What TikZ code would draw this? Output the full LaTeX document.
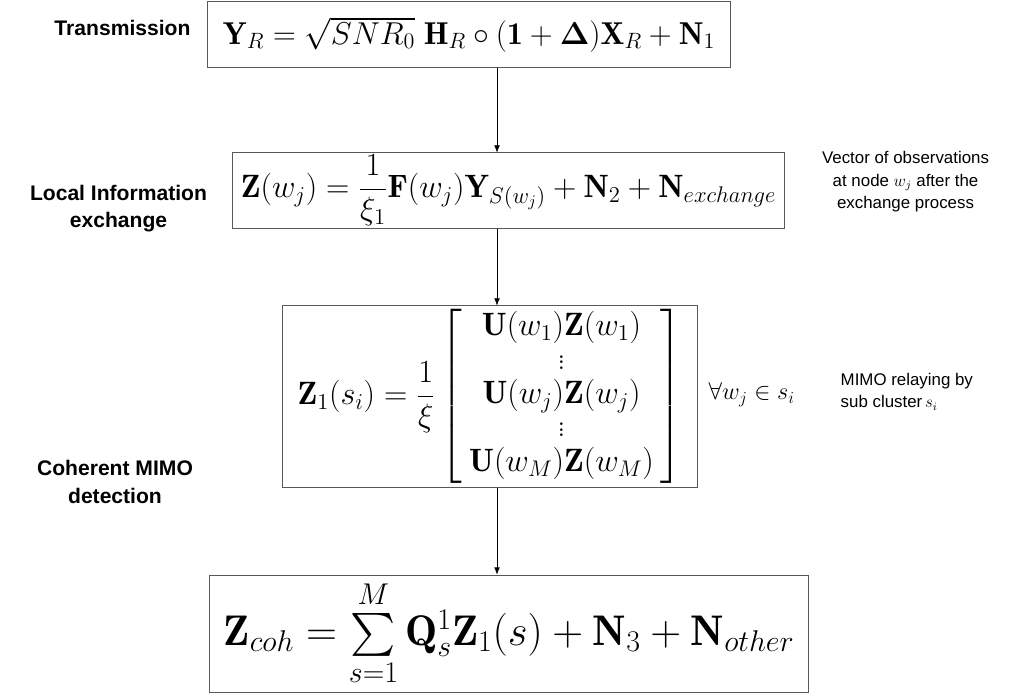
\RequirePackage{fix-cm}
\documentclass[tikz,border=0pt]{standalone}
\usepackage{amsmath,amssymb}
\usepackage{fontspec}
\newfontfamily\labelfont{Liberation Sans}
\usetikzlibrary{positioning,arrows.meta}

\newcommand{\eqsize}[1]{\fontsize{#1}{1.2\dimexpr#1pt\relax}\selectfont}

\begin{document}
\begin{tikzpicture}[
  x=0.025cm, y=-0.025cm,
  eqbox/.style={rectangle, draw=black!65, line width=0.7pt, inner sep=1pt},
  stage/.style={font=\labelfont\bfseries\fontsize{15}{19.5}\selectfont, align=center},
  note/.style={font=\labelfont\fontsize{12}{16}\selectfont},
  arr/.style={-{Latex[length=5pt,width=4pt]}, thin}
]
\useasboundingbox (0,0) rectangle (1016,696);

\node[eqbox, minimum width=13.05cm, minimum height=1.625cm] (tx)   at (469,34.5)
  {\eqsize{22.5}$\mathbf{Y}_R = \sqrt{SNR_0}\;\mathbf{H}_R \circ (\mathbf{1}+\boldsymbol{\Delta})\mathbf{X}_R + \mathbf{N}_1$};
\node[eqbox, minimum width=13.8cm, minimum height=1.875cm] (exch)  at (508.5,190.5)
  {\eqsize{23}$\mathbf{Z}(w_j) = \dfrac{1}{\xi_1}\mathbf{F}(w_j)\mathbf{Y}_{S(w_j)} + \mathbf{N}_2 + \mathbf{N}_{exchange}$};
\node[eqbox, minimum width=10.35cm, minimum height=4.525cm] (mimo) at (490,396.5)
  {\eqsize{23}\renewcommand{\arraystretch}{0.86}$\mathbf{Z}_1(s_i) = \dfrac{1}{\xi}\left[\begin{array}{c}
      \mathbf{U}(w_1)\mathbf{Z}(w_1)\\ \vdots\\ \mathbf{U}(w_j)\mathbf{Z}(w_j)\\ \vdots\\ \mathbf{U}(w_M)\mathbf{Z}(w_M)
    \end{array}\right]$};
\node[eqbox, minimum width=14.95cm, minimum height=2.925cm] (coh)  at (509,633.5)
  {\eqsize{30.5}$\mathbf{Z}_{coh} = \sum\limits_{s=1}^{M}\mathbf{Q}_s^1\mathbf{Z}_1(s) + \mathbf{N}_3 + \mathbf{N}_{other}$};

% stage names on the left
\node[stage, left=0.3cm of tx, yshift=0.16cm]    (stx)   {Transmission};
\node[stage, left=0.5cm of exch, yshift=-0.45cm] (sexch) {Local Information\\exchange};
\node[stage] (smimo) at (115,482) {Coherent MIMO\\detection};

% remarks on the right
\node[right=0.15cm of mimo, yshift=0.04cm] (forall) {\LARGE $\forall w_j \in s_i$};
\node[note, align=center, right=0.8cm of exch, yshift=0.21cm] (nexch) {Vector of observations\\at node {\large $w_j$} after the\\exchange process};
\node[note, align=left, right=0.9cm of forall, yshift=0.08cm] (nmimo) {MIMO relaying by\\sub cluster\,{\large $s_i$}};

\coordinate (spine) at (497,0);
\draw[arr] (tx.south -| spine)   -- (exch.north -| spine);
\draw[arr] (exch.south -| spine) -- (mimo.north -| spine);
\draw[arr] (mimo.south -| spine) -- (coh.north -| spine);

\end{tikzpicture}
\end{document}
